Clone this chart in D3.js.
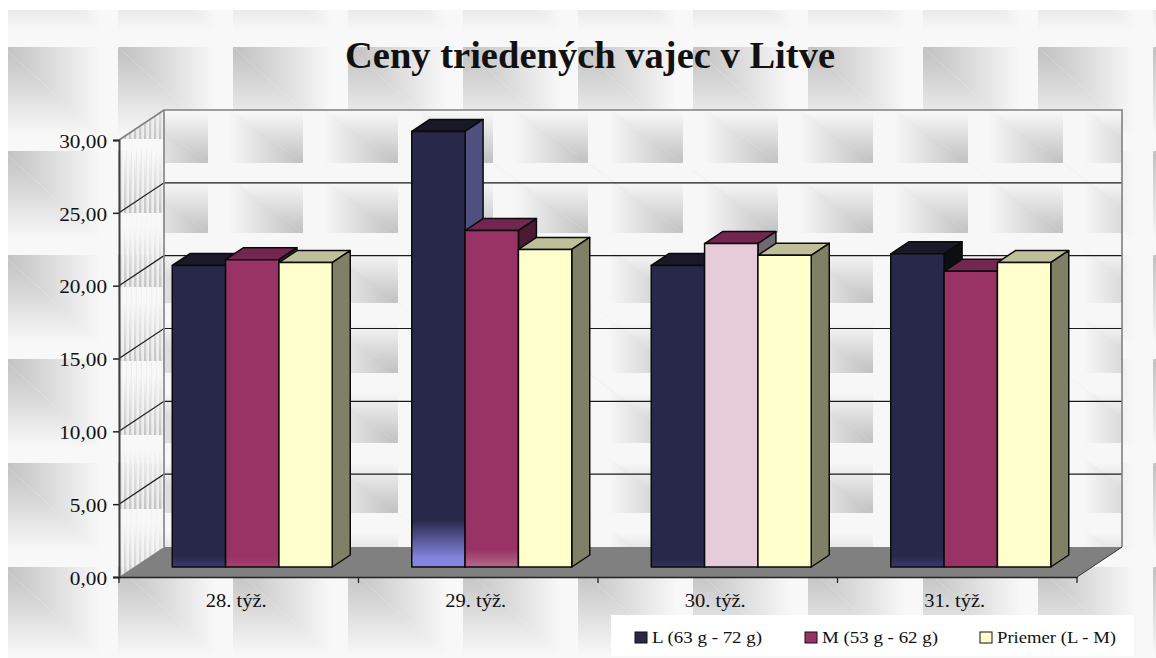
<!DOCTYPE html>
<html><head><meta charset="utf-8">
<script src="https://cdn.jsdelivr.net/npm/d3@7"></script>
<style>html,body{margin:0;padding:0;background:#fff}svg{display:block}text{font-family:"Liberation Serif",serif;fill:#111}</style>
</head><body><svg id="c" width="1156" height="658"></svg>
<script>
const chartTitle = "Ceny triedených vajec v Litve";
const categories = ["28. týž.", "29. týž.", "30. týž.", "31. týž."];
const seriesNames = ["L (63 g - 72 g)", "M (53 g - 62 g)", "Priemer (L - M)"];
const valuesL = [20.7, 29.9, 20.7, 21.5];
const valuesM = [21.1, 23.1, 22.2, 20.3];
const valuesP = [20.9, 21.8, 21.4, 20.9];
const yTicks = [0, 5, 10, 15, 20, 25, 30];

const frontColors = ["#28284a", "#993366", "#ffffcc"];
const topColors = ["#191927", "#73264f", "#bfbf99"];
const sideColors = ["#0d0d14", "#4d1a36", "#808066"];

const svg = d3.select("#c");
const defs = svg.append("defs");
const STRETCH = 1.18, WALL = [45, -30], BAR = [18, -12];
const locale = d3.formatLocale({decimal: ",", thousands: " ", grouping: [3], currency: ["", ""]});

const x = d3.scaleBand().domain(categories).range([119, 1077]);
const y = d3.scaleLinear().domain([0, 30]).range([577, 140]);
const inner = d3.scaleBand().domain([0, 1, 2]).range([0, 160]);
const series = [valuesL, valuesM, valuesP];

function tile(id, ox, oy, w, h, flip) {
  const p = defs.append("pattern").attr("id", id).attr("patternUnits", "userSpaceOnUse")
    .attr("x", ox).attr("y", oy).attr("width", w).attr("height", h);
  const grad = (gid, horiz, span) => {
    const g = defs.append("linearGradient").attr("id", gid).attr("gradientUnits", "userSpaceOnUse");
    g.attr("x1", 0).attr("y1", 0).attr("x2", horiz ? w : 0).attr("y2", horiz ? 0 : h);
    const st = flip
      ? [[0, "#f7f7f7"], [1 - span, "#f7f7f7"], [1, "#c0c0c0"]]
      : [[0, "#c0c0c0"], [span, "#f8f8f8"], [1, "#f8f8f8"]];
    st.forEach(s => g.append("stop").attr("offset", s[0]).attr("stop-color", s[1]));
  };
  grad(id + "h", true, flip ? 0.78 : 0.85);
  grad(id + "v", false, flip ? 0.72 : 0.85);
  // crease runs corner to corner; the flipped tile swaps which gradient sits on which side
  p.append("path").attr("d", `M0,0L${w},${h}L${w},0Z`).attr("fill", `url(#${id}${flip ? "v" : "h"})`);
  p.append("path").attr("d", `M0,0L${w},${h}L0,${h}Z`).attr("fill", `url(#${id}${flip ? "h" : "v"})`);
}
tile("outer", 118, 47, 115, 104, false);
tile("wall", 208, 93, 95, 70, true);

// left-wall stripes
const stripeStops = [["sA", "#c4c4c4"], ["sB", "#ececec"]];
stripeStops.forEach(([id, c]) => {
  const g = defs.append("linearGradient").attr("id", id).attr("x1", 0).attr("y1", 0).attr("x2", 0).attr("y2", 1);
  g.append("stop").attr("offset", 0.2).attr("stop-color", "#f8f8f8");
  g.append("stop").attr("offset", 1).attr("stop-color", c);
});
const sp = defs.append("pattern").attr("id", "side").attr("patternUnits", "userSpaceOnUse")
  .attr("x", 119).attr("y", 65).attr("width", 5).attr("height", 74);
sp.append("rect").attr("width", 2.5).attr("height", 74).attr("fill", "url(#sA)");
sp.append("rect").attr("x", 2.5).attr("width", 2.5).attr("height", 74).attr("fill", "url(#sB)");

// background
svg.append("rect").attr("x", 8).attr("y", 10).attr("width", 1148).attr("height", 648).attr("fill", "url(#outer)");

const x0 = x.range()[0], x1 = x.range()[1], y0 = y(0), yT = y(30);
const pts = a => a.map(p => p.join(",")).join(" ");
// back wall
svg.append("rect").attr("x", x0 + WALL[0]).attr("y", yT + WALL[1]).attr("width", x1 - x0).attr("height", y0 - yT).attr("fill", "url(#wall)");
// side wall
svg.append("polygon").attr("points", pts([[x0, yT], [x0 + WALL[0], yT + WALL[1]], [x0 + WALL[0], y0 + WALL[1]], [x0, y0]])).attr("fill", "url(#side)");
// floor
svg.append("polygon").attr("points", pts([[x0, y0], [x0 + WALL[0], y0 + WALL[1]], [x1 + WALL[0], y0 + WALL[1]], [x1, y0]])).attr("fill", "#808080");

// gridlines
yTicks.filter(t => t > 0 && t < 30).forEach(t => {
  svg.append("polyline").attr("points", pts([[x0, y(t)], [x0 + WALL[0], y(t) + WALL[1]], [x1 + WALL[0], y(t) + WALL[1]]]))
    .attr("fill", "none").attr("stroke", "#1a1a1a").attr("stroke-width", 1.2);
});
// wall frame
svg.append("polyline").attr("points", pts([[x0, yT], [x0 + WALL[0], yT + WALL[1]], [x1 + WALL[0], yT + WALL[1]], [x1 + WALL[0], y0 + WALL[1]]]))
  .attr("fill", "none").attr("stroke", "#808080").attr("stroke-width", 1.6);
svg.append("line").attr("x1", x0 + WALL[0]).attr("x2", x0 + WALL[0]).attr("y1", yT + WALL[1]).attr("y2", y0 + WALL[1]).attr("stroke", "#808080").attr("stroke-width", 1.6);
svg.append("line").attr("x1", x1).attr("x2", x1 + WALL[0]).attr("y1", y0).attr("y2", y0 + WALL[1]).attr("stroke", "#333").attr("stroke-width", 1);

// front gradients that appear in a few bars of the original
const sheens = [
  {s: 0, c: 0, from: 556, to: 567, end: "#3a3a72"},
  {s: 0, c: 1, from: 520, to: 558, end: "#8484de"},
  {s: 0, c: 2, from: 560, to: 567, end: "#34345e"},
  {s: 0, c: 3, from: 556, to: 567, end: "#3a3a72"},
  {s: 1, c: 0, from: 558, to: 567, end: "#a4446f"},
  {s: 1, c: 1, from: 550, to: 567, end: "#b56a8a"}
];
function frontFill(s, c) {
  if (s === 1 && c === 2) return "#e6ccd9";
  const m = sheens.find(d => d.s === s && d.c === c);
  if (!m) return frontColors[s];
  const id = `sh${s}${c}`;
  const g = defs.append("linearGradient").attr("id", id).attr("gradientUnits", "userSpaceOnUse")
    .attr("x1", 0).attr("x2", 0).attr("y1", m.from).attr("y2", m.to);
  g.append("stop").attr("offset", 0).attr("stop-color", frontColors[s]);
  g.append("stop").attr("offset", 1).attr("stop-color", m.end);
  return `url(#${id})`;
}
function sideFill(s, c) {
  if (s === 0 && c === 1) return "#4f4f80";
  if (s === 1 && c === 2) return "#6e6a70";
  return sideColors[s];
}

// bars (3D): left to right so later bars overlap earlier sides
const barW = inner.bandwidth();
const groupPad = (x.bandwidth() - 160) / 2 + 13.5, floorLift = -10;
const gBars = svg.append("g").attr("stroke", "#0a0a0a").attr("stroke-width", 1.5).attr("stroke-linejoin", "round");
categories.forEach((cat, c) => {
  series.forEach((vals, s) => {
    const l = x(cat) + groupPad + inner(s), r = l + barW;
    const t = y(vals[c]) + floorLift, b = y(0) + floorLift;
    const g = gBars.append("g");
    g.append("polygon").attr("points", pts([[l, t], [l + BAR[0], t + BAR[1]], [r + BAR[0], t + BAR[1]], [r, t]])).attr("fill", topColors[s]);
    g.append("polygon").attr("points", pts([[r, t], [r + BAR[0], t + BAR[1]], [r + BAR[0], b + BAR[1]], [r, b]])).attr("fill", sideFill(s, c));
    g.append("rect").attr("x", l).attr("y", t).attr("width", barW).attr("height", b - t).attr("fill", frontFill(s, c));
  });
});

// axes
const fmt = locale.format(".2f");
const yAxis = svg.append("g").attr("transform", `translate(${x0},0)`)
  .call(d3.axisLeft(y).tickValues(yTicks).tickFormat(fmt).tickSize(6).tickPadding(6));
yAxis.select(".domain").attr("stroke", "#404040").attr("stroke-width", 2);
yAxis.selectAll(".tick line").attr("stroke", "#222").attr("stroke-width", 1.5);
yAxis.selectAll("text").attr("font-size", 18).attr("x", -12 / STRETCH).attr("y", 1.5).attr("transform", `scale(${STRETCH},1)`);

const CAT_STRETCH = 1.14;
const xAxis = svg.append("g").attr("transform", `translate(0,${y0})`)
  .call(d3.axisBottom(x).tickSize(0).tickPadding(17));
xAxis.select(".domain").attr("stroke", "#222").attr("stroke-width", 1.6);
xAxis.selectAll("text").attr("font-size", 18).attr("x", -2.5 / CAT_STRETCH).attr("transform", `scale(${CAT_STRETCH},1)`);
d3.range(categories.length + 1).forEach(i => {
  const px = x0 + i * x.step();
  svg.append("line").attr("x1", px).attr("x2", px).attr("y1", y0).attr("y2", y0 + 6).attr("stroke", "#222").attr("stroke-width", 1.3);
});

// title
svg.append("text").attr("x", 345).attr("y", 68).attr("font-size", 38).attr("font-weight", "bold")
  .attr("textLength", 490).attr("lengthAdjust", "spacingAndGlyphs").attr("fill", "#000").text(chartTitle);

// legend
const legendX = [635, 805, 980], legendW = [110, 116, 119];
svg.append("rect").attr("x", 611).attr("y", 615).attr("width", 523).attr("height", 41).attr("fill", "#fff");
seriesNames.forEach((n, i) => {
  svg.append("rect").attr("x", legendX[i]).attr("y", 632).attr("width", 12).attr("height", 11)
    .attr("fill", frontColors[i]).attr("stroke", "#111").attr("stroke-width", 1);
  svg.append("text").attr("x", legendX[i] + 17).attr("y", 643).attr("font-size", 17)
    .attr("textLength", legendW[i]).attr("lengthAdjust", "spacingAndGlyphs").text(n);
});
</script></body></html>
